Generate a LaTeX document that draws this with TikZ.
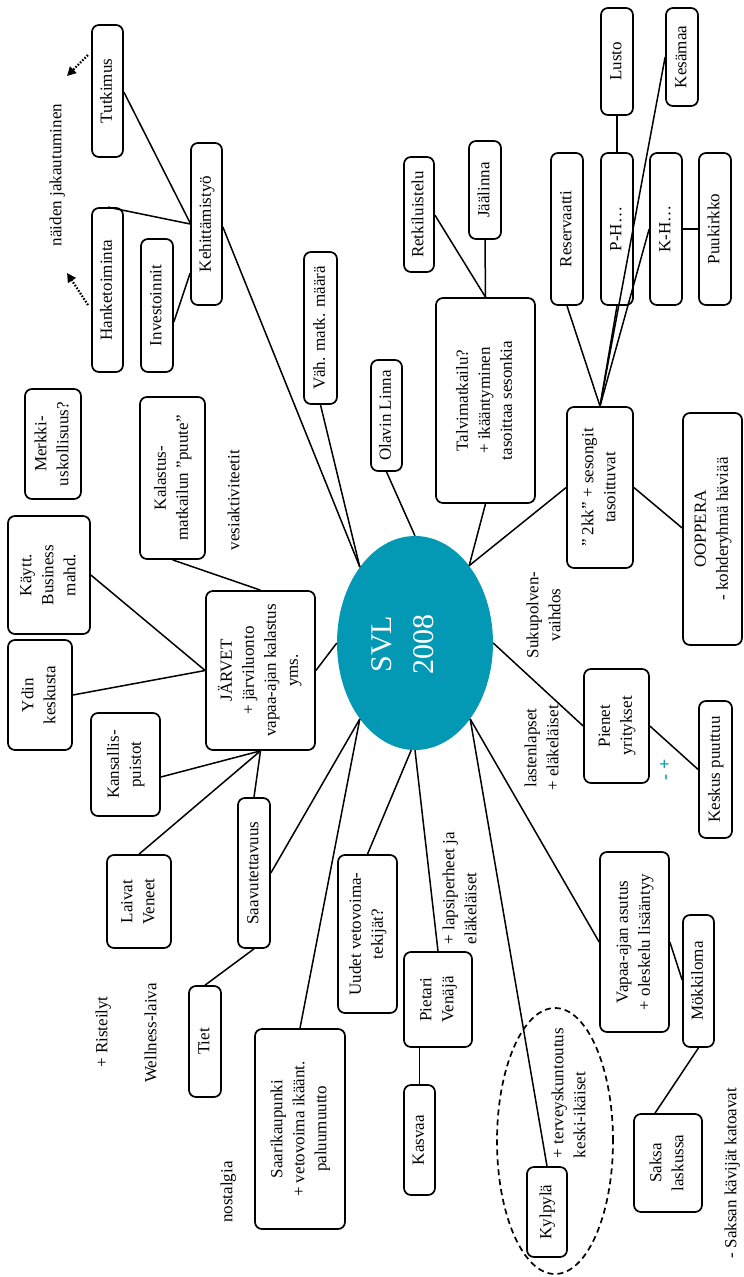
\documentclass[tikz,border=0pt]{standalone}
\usepackage{fontspec}
\setmainfont{Liberation Serif}
\usetikzlibrary{arrows.meta,shapes.geometric}
\definecolor{svlteal}{HTML}{0399B5}
\newcommand{\rt}[1]{\rotatebox{90}{\begin{tabular}{@{}c@{}}#1\end{tabular}}}
\newcommand{\rl}[1]{\rotatebox{90}{\begin{tabular}{@{}l@{}}#1\end{tabular}}}
\begin{document}
\begin{tikzpicture}[x=1pt,y=-1pt,
  box/.style={draw, line width=1.7pt, rounded corners=7pt, fill=white, inner sep=0pt, font=\fontsize{17}{22}\selectfont},
  lbl/.style={inner sep=0pt, font=\fontsize{17}{22}\selectfont},
  link/.style={line width=1.5pt},
  dotarrow/.style={line width=2.2pt, dash pattern=on 1.6pt off 1.6pt, -{Triangle[length=9pt,width=9pt]}},
  dashring/.style={ellipse, draw, line width=1.7pt, dash pattern=on 6pt off 4pt, inner sep=0pt}]
\useasboundingbox (0,0) rectangle (744,1277);
% centre
\node[ellipse, fill=svlteal, minimum width=156pt, minimum height=214pt, inner sep=0pt] (svl) at (415,643) {};
\node[inner sep=0pt, text=white, font=\fontsize{30}{42}\selectfont] (svltext) at (404,644) {\rt{SVL\\2008}};
% dashed ring
\node[dashring, minimum width=116pt, minimum height=266pt] (ring) at (555,1141) {};
% boxes
\node[box, minimum width=31pt, minimum height=132pt] (tut) at (107.5,91) {\rt{Tutkimus}};
\node[box, minimum width=31pt, minimum height=162pt] (keh) at (206.5,224) {\rt{Kehittämistyö}};
\node[box, minimum width=31pt, minimum height=164pt] (han) at (107.5,290) {\rt{Hanketoiminta}};
\node[box, minimum width=32pt, minimum height=133pt] (inv) at (157,305.5) {\rt{Investoinnit}};
\node[box, minimum width=33pt, minimum height=152pt] (vah) at (320.5,328) {\rt{Väh. matk. määrä}};
\node[box, minimum width=31pt, minimum height=111pt] (ola) at (386.5,415.5) {\rt{Olavin Linna}};
\node[box, minimum width=99pt, minimum height=205pt] (tal) at (485.5,400.5) {\rt{Talvimatkailu?\\+ ikääntyminen\\tasoittaa sesonkia}};
\node[box, minimum width=30pt, minimum height=115pt] (ret) at (419,214.5) {\rt{Retkiluistelu}};
\node[box, minimum width=32pt, minimum height=98pt] (jaa) at (485,190) {\rt{Jäälinna}};
\node[box, minimum width=32pt, minimum height=152pt] (res) at (567,229) {\rt{Reservaatti}};
\node[box, minimum width=32pt, minimum height=152pt] (ph) at (617,229) {\rt{P-H…}};
\node[box, minimum width=32pt, minimum height=152pt] (kh) at (666,229) {\rt{K-H…}};
\node[box, minimum width=32pt, minimum height=152pt] (puu) at (715,229) {\rt{Puukirkko}};
\node[box, minimum width=32pt, minimum height=107pt] (lus) at (617,61.5) {\rt{Lusto}};
\node[box, minimum width=32pt, minimum height=98pt] (kes) at (682,57) {\rt{Kesämaa}};
\node[box, minimum width=66pt, minimum height=161pt] (kk) at (600,487.5) {\rt{” 2kk” + sesongit\\tasoittuvat}};
\node[box, minimum width=59pt, minimum height=232pt] (oop) at (712.5,529) {\rt{OOPPERA\\- kohderyhmä häviää}};
\node[box, minimum width=65pt, minimum height=114pt] (pie) at (616.5,726) {\rt{Pienet\\yritykset}};
\node[box, minimum width=33pt, minimum height=137pt] (kpu) at (715.5,769.5) {\rt{Keskus puuttuu}};
\node[box, minimum width=69pt, minimum height=180pt] (vap) at (634.5,942) {\rt{Vapaa-ajan asutus\\+ oleskelu lisääntyy}};
\node[box, minimum width=40pt, minimum height=90pt] (kyl) at (547,1212) {\rt{Kylpylä}};
\node[box, minimum width=31pt, minimum height=132pt] (mok) at (698.5,981) {\rt{Mökkiloma}};
\node[box, minimum width=68pt, minimum height=98pt] (sak) at (668,1163) {\rt{Saksa\\laskussa}};
\node[box, minimum width=68pt, minimum height=95pt] (pv) at (438,999.5) {\rt{Pietari\\Venäjä}};
\node[box, minimum width=31pt, minimum height=110pt] (kas) at (419.5,1140) {\rt{Kasvaa}};
\node[box, minimum width=59pt, minimum height=158pt] (uud) at (367.5,934) {\rt{Uudet vetovoima-\\tekijät?}};
\node[box, minimum width=90pt, minimum height=200pt] (saa) at (300,1129) {\rt{Saarikaupunki\\+ vetovoima ikäänt.\\paluumuutto}};
\node[box, minimum width=32pt, minimum height=150pt] (sav) at (254,873) {\rt{Saavutettavuus}};
\node[box, minimum width=32pt, minimum height=111pt] (tie) at (205,1041.5) {\rt{Tiet}};
\node[box, minimum width=64pt, minimum height=93pt] (lai) at (139,901.5) {\rt{Laivat\\Veneet}};
\node[box, minimum width=109pt, minimum height=159pt] (jar) at (260.5,670.5) {\rt{JÄRVET\\+ järviluonto\\vapaa-ajan kalastus\\yms.}};
\node[box, minimum width=65pt, minimum height=162pt] (kal) at (172.5,478) {\rt{Kalastus-\\matkailun ”puute”}};
\node[box, minimum width=82pt, minimum height=118pt] (kay) at (49,575) {\rt{Käytt.\\Business\\mahd.}};
\node[box, minimum width=64pt, minimum height=110pt] (ydi) at (40,695) {\rt{Ydin\\keskusta}};
\node[box, minimum width=69pt, minimum height=103pt] (kan) at (125.5,764.5) {\rt{Kansallis-\\puistot}};
\node[box, minimum width=56pt, minimum height=110pt] (mer) at (53,444) {\rt{Merkki-\\uskollisuus?}};
% free labels
\node[lbl] (nai) at (57,175) {\rt{näiden jakautuminen}};
\node[lbl] (ves) at (235,500) {\rt{vesiaktiviteetit}};
\node[lbl] (suk) at (545,615) {\rt{Sukupolven-\\vaihdos}};
\node[lbl] (las) at (543,748) {\rt{lastenlapset\\+ eläkeläiset}};
\node[lbl] (lap) at (461,888) {\rl{+ lapsiperheet ja\\eläkeläiset}};
\node[lbl] (ter) at (570,1093) {\rl{+ terveyskuntoutus\\keski-ikäiset}};
\node[lbl] (skk) at (732,1173) {\rt{- Saksan kävijät katoavat}};
\node[lbl] (ris) at (103,1032) {\rt{+ Risteilyt}};
\node[lbl] (wel) at (152,1033) {\rt{Wellness-laiva}};
\node[lbl] (nos) at (228,1192) {\rt{nostalgia}};
\node[lbl, text=svlteal, font=\fontsize{18}{22}\bfseries] (pm) at (666,770) {\rt{-\ +}};
% dotted arrows
\coordinate (d1s) at (88,55);
\coordinate (d1e) at (67,76);
\coordinate (d2s) at (88,305);
\coordinate (d2e) at (67,273);
\draw[dotarrow] (d1s) -- (d1e);
\draw[dotarrow] (d2s) -- (d2e);
% connectors
\draw[link] (tut.east |- 0,92) -- (keh.west |- 0,223);
\draw[link] (108,0 |- han.north) -- (keh.west |- 0,224);
\draw[link] (inv.east |- 0,322) -- (keh.west |- 0,273);
\draw[link] (keh.east |- 0,227) -- (svl.126);
\draw[link] (vah.south) -- (svl.126);
\draw[link] (ola.south) -- (svl.90);
\draw[link] (tal.south) -- (svl.55);
\draw[link] (ret.east |- 0,215) -- (tal.north);
\draw[link] (jaa.south) -- (tal.north);
\draw[link] (res.south) -- (kk.north);
\draw[link] (ph.south) -- (kk.north);
\draw[link] (kh.west) -- (kk.north);
\draw[link] (kes.west) -- (kk.north);
\draw[link] (lus.south) -- (ph.north);
\draw[link] (kh.east) -- (puu.west);
\draw[link] (kk.west) -- (svl.55);
\draw[link] (kk.east) -- (oop.west |- 0,528);
\draw[link] (svl.0) -- (pie.west);
\draw[link] (pie.east) -- (kpu.west);
\draw[link] (svl.-54) -- (vap.west);
\draw[link] (svl.-54) -- (kyl.north);
\draw[link] (vap.east) -- (mok.west |- 0,980);
\draw[link] (mok.south) -- (655,0 |- sak.north);
\draw[link] (svl.-90) -- (pv.north);
\draw[link] (kas.north |- pv.south) -- (kas.north);
\draw[link] (svl.-92) -- (uud.north);
\draw[link] (svl.-126) -- (saa.north);
\draw[link] (svl.-126) -- (sav.east);
\draw[link] (jar.south) -- (sav.north);
\draw[link] (jar.south) -- (lai.north);
\draw[link] (jar.south) -- (kan.east |- 0,777);
\draw[link] (sav.south) -- (tie.north);
\draw[link] (jar.east) -- (svl.180);
\draw[link] (kal.south) -- (jar.north);
\draw[link] (kay.east) -- (jar.west);
\draw[link] (ydi.east) -- (jar.west);
\end{tikzpicture}
\end{document}
